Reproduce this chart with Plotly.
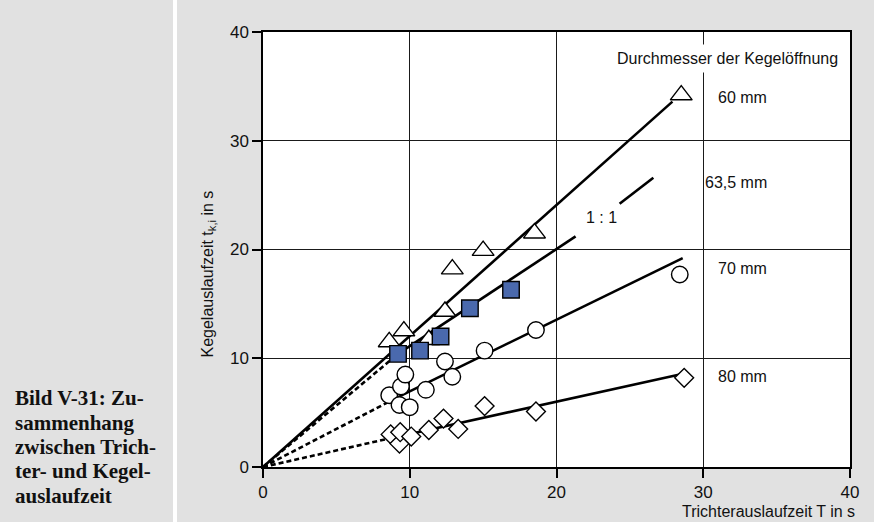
import plotly.graph_objects as go

# ---------------- data ----------------
# 60 mm (triangles)
tri_x = [8.6, 9.6, 11.3, 12.4, 12.9, 15.0, 18.5, 28.5]
tri_y = [11.5, 12.5, 11.7, 14.3, 18.2, 19.9, 21.5, 34.2]
# 63,5 mm (filled squares)
sq_x = [9.2, 10.7, 12.1, 14.1, 16.9]
sq_y = [10.4, 10.7, 12.0, 14.6, 16.3]
# 70 mm (circles)
circ_x = [8.6, 9.3, 9.4, 9.7, 10.0, 11.1, 12.4, 12.9, 15.1, 18.6, 28.4]
circ_y = [6.6, 5.7, 7.4, 8.5, 5.5, 7.1, 9.7, 8.3, 10.7, 12.6, 17.7]
# 80 mm (diamonds)
dia_x = [8.7, 9.3, 9.35, 10.1, 11.3, 12.3, 13.3, 15.1, 18.6, 28.7]
dia_y = [3.0, 2.15, 3.2, 2.8, 3.4, 4.45, 3.5, 5.6, 5.1, 8.2]

# fitted lines (end points)
fit60_x, fit60_y = [0, 27.9], [0, 33.6]
sq_dash_x, sq_dash_y = [0, 9.2], [0, 10.4]
sq_fit_x, sq_fit_y = [9.2, 21.3], [10.4, 21.2]
one_x, one_y = [24.3, 26.6], [24.2, 26.6]
circ_dash_x, circ_dash_y = [0, 9.3], [0, 6.5]
circ_fit_x, circ_fit_y = [9.3, 28.6], [6.5, 19.2]
dia_dash_x, dia_dash_y = [0, 8.7], [0, 2.65]
dia_fit_x, dia_fit_y = [8.7, 28.4], [2.65, 8.5]

x_ticks = [0, 10, 20, 30, 40]
y_ticks = [0, 10, 20, 30, 40]

# ---------------- styling ----------------
SANS = "Liberation Sans, Arial, Helvetica, sans-serif"
SERIF = "Liberation Serif, Times New Roman, serif"
BG = "#e1e1e1"
TXT = "#111111"
W, H = 874, 522
ML, MR, MT, MB = 263, 24, 32, 55
PW, PH = W - ML - MR, H - MT - MB


def px2paper_x(px):
    return (px - ML) / PW


def px2paper_y(py):
    return (H - MB - py) / PH


fig = go.Figure()

solid = dict(color="black", width=2.6)
dashed = dict(color="black", width=2.6, dash="5px,3px")

for xs, ys, ln in [
    (fit60_x, fit60_y, solid),
    (sq_dash_x, sq_dash_y, dashed),
    (sq_fit_x, sq_fit_y, solid),
    (one_x, one_y, solid),
    (circ_dash_x, circ_dash_y, dashed),
    (circ_fit_x, circ_fit_y, solid),
    (dia_dash_x, dia_dash_y, dashed),
    (dia_fit_x, dia_fit_y, solid),
]:
    fig.add_trace(go.Scatter(x=xs, y=ys, mode="lines", line=ln,
                             showlegend=False, hoverinfo="skip"))

mk_line = dict(color="black", width=1.4)
fig.add_trace(go.Scatter(x=tri_x, y=tri_y, mode="markers", showlegend=False,
                         marker=dict(symbol="triangle-up", size=19, color="white", line=mk_line)))
fig.add_trace(go.Scatter(x=circ_x, y=circ_y, mode="markers", showlegend=False,
                         marker=dict(symbol="circle", size=16.5, color="white", line=mk_line)))
fig.add_trace(go.Scatter(x=dia_x, y=dia_y, mode="markers", showlegend=False,
                         marker=dict(symbol="diamond", size=14.5, color="white", line=mk_line)))
fig.add_trace(go.Scatter(x=sq_x, y=sq_y, mode="markers", showlegend=False,
                         marker=dict(symbol="square", size=16.5, color="#4a69ad", line=mk_line)))

axis_common = dict(
    showgrid=True, gridcolor="#1a1a1a", gridwidth=1.3,
    showline=True, linecolor="black", linewidth=1.5, mirror=True,
    ticks="outside", ticklen=9, tickcolor="black", tickwidth=1.5,
    zeroline=False, tickfont=dict(family=SANS, size=17, color=TXT),
)
fig.update_xaxes(range=[0, 40], tickvals=x_ticks, **axis_common)
fig.update_yaxes(range=[0, 40], tickvals=y_ticks, **axis_common)

AF = dict(family=SANS, size=16, color=TXT)
annotations = [
    dict(x=31.66, y=37.6, xref="x", yref="y", text="Durchmesser der Kegelöffnung",
         showarrow=False, bgcolor="white", borderpad=5, font=AF),
    dict(x=30.85, y=34.0, xref="x", yref="y", text="60 mm", xanchor="left",
         showarrow=False, font=AF),
    dict(x=29.95, y=26.2, xref="x", yref="y", text="63,5 mm", xanchor="left",
         showarrow=False, font=AF),
    dict(x=30.85, y=18.25, xref="x", yref="y", text="70 mm", xanchor="left",
         showarrow=False, font=AF),
    dict(x=30.85, y=8.3, xref="x", yref="y", text="80 mm", xanchor="left",
         showarrow=False, font=AF),
    dict(x=23.05, y=22.95, xref="x", yref="y", text="1 : 1",
         showarrow=False, font=AF),
    dict(x=1, xshift=7, y=px2paper_y(511), xref="paper", yref="paper",
         text="Trichterauslaufzeit T in s", xanchor="right", yanchor="middle",
         showarrow=False, font=AF),
    dict(x=px2paper_x(196), y=px2paper_y(274), xref="paper", yref="paper",
         text="Kegelauslaufzeit t<sub>k,i</sub> in s", textangle=-90,
         showarrow=False, font=AF),
]

caption_lines = ["Bild V-31: Zu-", "sammenhang", "zwischen Trich-",
                 "ter- und Kegel-", "auslaufzeit"]
for i, line in enumerate(caption_lines):
    annotations.append(dict(
        x=px2paper_x(13), y=px2paper_y(398 + 24.5 * i), xref="paper", yref="paper",
        xanchor="left", yanchor="middle", text="<b>" + line + "</b>",
        showarrow=False, font=dict(family=SERIF, size=21, color=TXT)))

shapes = [
    dict(type="rect", xref="paper", yref="paper",
         x0=px2paper_x(173), x1=px2paper_x(177),
         y0=px2paper_y(H), y1=px2paper_y(0),
         fillcolor="white", line=dict(width=0), layer="below"),
]

fig.update_layout(
    width=W, height=H,
    margin=dict(l=ML, r=MR, t=MT, b=MB),
    paper_bgcolor=BG, plot_bgcolor="white",
    annotations=annotations, shapes=shapes,
    showlegend=False,
)

fig.write_html("out.html")
